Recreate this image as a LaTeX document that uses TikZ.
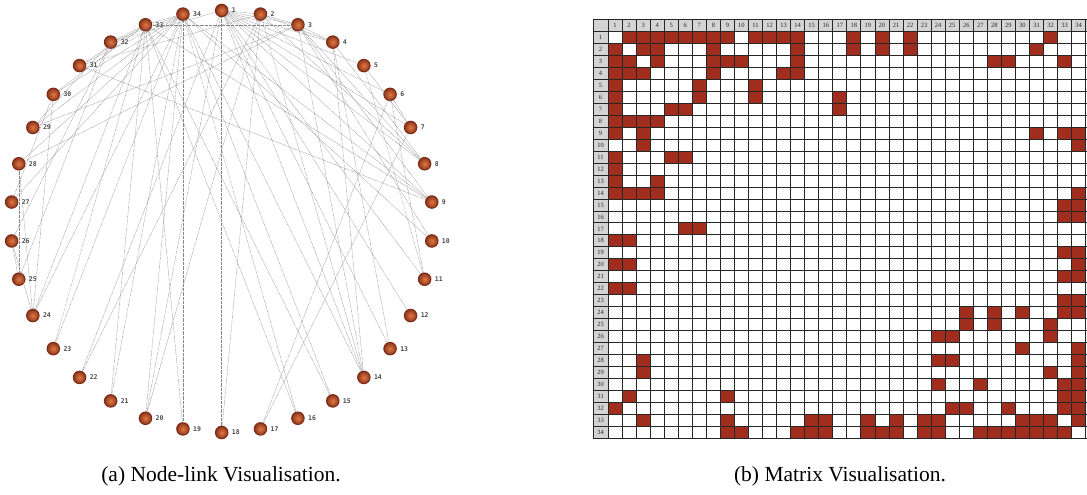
\documentclass[tikz,border=0pt]{standalone}
\usepackage{fontspec}
\setmainfont{Liberation Serif}
\newfontfamily\lblfont{DejaVu Sans Mono}
\definecolor{cellred}{RGB}{160,45,30}
\definecolor{ballin}{RGB}{225,120,65}
\definecolor{ballout}{RGB}{125,42,22}
\definecolor{hdr}{RGB}{212,212,212}
\definecolor{edgegray}{RGB}{135,135,135}
\begin{document}
\begin{tikzpicture}[x=1pt,y=-1pt,
  vnode/.style={circle,minimum size=12.5pt,inner sep=0pt,draw=ballout,line width=1pt,shading=radial,inner color=ballin,outer color=ballout!85!ballin},
  vlabel/.style={font=\lblfont\bfseries\fontsize{6.5}{7}\selectfont,text=black!70,inner sep=0pt,anchor=west},
  edgeline/.style={draw=edgegray,line width=0.45pt,dash pattern=on 0.6pt off 0.7pt},
  hlabel/.style={font=\fontsize{6.5}{7}\selectfont,inner sep=0pt,text=black!85},
  gridline/.style={draw=black!85,line width=0.9pt},
  caption/.style={font=\fontsize{21.5}{25}\selectfont,inner sep=0pt}]
\useasboundingbox (0,0) rectangle (1087,495);
\fill[white] (0,0) rectangle (1087,495);
% ---------- node-link ----------
\foreach \i in {1,...,34} {
  \pgfmathsetmacro\ang{90-(\i-1)*360/34}
  \node[vnode] (v\i) at ({221.7+211*cos(\ang)},{221.5-211*sin(\ang)}) {};
  \node[vlabel] (l\i) at ([xshift=10pt]v\i.center) {\i};
}
\foreach \a/\b in {1/2,1/3,1/4,1/5,1/6,1/7,1/8,1/9,1/11,1/12,1/13,1/14,1/18,1/20,1/22,1/32,
  2/3,2/4,2/8,2/14,2/18,2/20,2/22,2/31,
  3/4,3/8,3/9,3/10,3/14,3/28,3/29,3/33,
  4/8,4/13,4/14,5/7,5/11,6/7,6/11,6/17,7/17,
  9/31,9/33,9/34,10/34,14/34,15/33,15/34,16/33,16/34,19/33,19/34,20/34,21/33,21/34,23/33,23/34,
  24/26,24/28,24/30,24/33,24/34,25/26,25/28,25/32,26/32,27/30,27/34,28/34,29/32,29/34,
  30/33,30/34,31/33,31/34,32/33,32/34,33/34}
  \draw[edgeline] (v\a) -- (v\b);
% ---------- matrix ----------
\fill[hdr] (593,19.5) rectangle (1086.7,31.7);
\fill[hdr] (593,19.5) rectangle (608,438);
\foreach \a/\b in {1/2,1/3,1/4,1/5,1/6,1/7,1/8,1/9,1/11,1/12,1/13,1/14,1/18,1/20,1/22,1/32,
  2/3,2/4,2/8,2/14,2/18,2/20,2/22,2/31,
  3/4,3/8,3/9,3/10,3/14,3/28,3/29,3/33,
  4/8,4/13,4/14,5/7,5/11,6/7,6/11,6/17,7/17,
  9/31,9/33,9/34,10/34,14/34,15/33,15/34,16/33,16/34,19/33,19/34,20/34,21/33,21/34,23/33,23/34,
  24/26,24/28,24/30,24/33,24/34,25/26,25/28,25/32,26/32,27/30,27/34,28/34,29/32,29/34,
  30/33,30/34,31/33,31/34,32/33,32/34,33/34} {
  \fill[cellred] ({608+(\b-1)*14.05},{31.7+(\a-1)*11.95}) rectangle ++(14.05,11.95);
  \fill[cellred] ({608+(\a-1)*14.05},{31.7+(\b-1)*11.95}) rectangle ++(14.05,11.95);
}
\foreach \k in {0,...,34} {
  \draw[gridline] ({608+\k*14.05},19.5) -- ({608+\k*14.05},438);
  \draw[gridline] (593,{31.7+\k*11.95}) -- (1086.7,{31.7+\k*11.95});
}
\draw[gridline] (593,19.5) -- (593,438);
\draw[gridline] (593,19.5) -- (1086.7,19.5);
\foreach \k in {1,...,34} {
  \node[hlabel] (ch\k) at ({608+(\k-0.5)*14.05},25.6) {\k};
  \node[hlabel] (rh\k) at (600.5,{31.7+(\k-0.5)*11.95}) {\k};
}
% ---------- captions ----------
\node[caption] (capa) at (221,476) {(a) Node-link Visualisation.};
\node[caption] (capb) at (840,476) {(b) Matrix Visualisation.};
\end{tikzpicture}
\end{document}
